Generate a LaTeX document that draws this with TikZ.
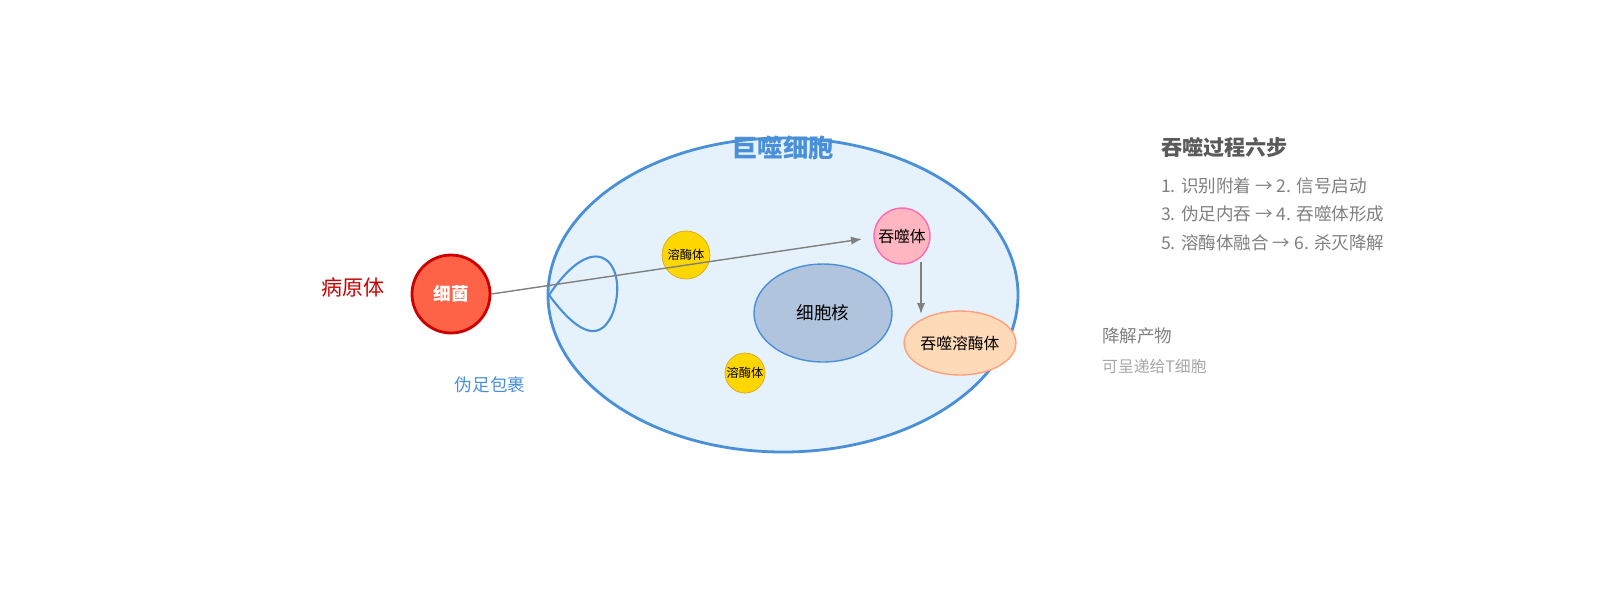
\documentclass[tikz,border=0pt]{standalone}
\usepackage{fontspec}
\setmainfont{Noto Sans CJK SC}
\usetikzlibrary{arrows.meta,shapes.geometric}
\definecolor{cellblue}{HTML}{4A90D9}
\definecolor{cellfill}{HTML}{E6F2FB}
\definecolor{bactfill}{HTML}{FF6347}
\definecolor{bactdraw}{HTML}{CC0000}
\definecolor{lysofill}{HTML}{FFD700}
\definecolor{lysodraw}{HTML}{DAA520}
\definecolor{nucfill}{HTML}{B0C4DE}
\definecolor{phagfill}{HTML}{FFB6C1}
\definecolor{phagdraw}{HTML}{FF69B4}
\definecolor{plfill}{HTML}{FFDAB9}
\definecolor{pldraw}{HTML}{FFA07A}
\definecolor{txtgrey}{HTML}{808080}
\tikzset{
  lyso/.style={circle, fill=lysofill, draw=lysodraw, font=\scriptsize, inner sep=0pt},
  flow/.style={draw=txtgrey, thick, -{Latex[length=2.2mm]}},
  steps/.style={text=txtgrey, anchor=west, font=\normalsize}
}
\begin{document}
\begin{tikzpicture}[x=0.02cm, y=-0.02cm]
    \useasboundingbox (0,0) rectangle (1600,600);

    % Macrophage
    \draw[cellblue, line width=1.6pt, fill=cellfill] (783,295) ellipse (235 and 157);
    \node[text=cellblue, font=\Large\bfseries] (title) at (783,148) {巨噬细胞};

    % Pseudopod
    \draw[cellblue, line width=1.2pt] (549,295) .. controls (600,220) and (630,270) .. (612,315)
        .. controls (598,345) and (575,330) .. (549,295);
    \node[text=cellblue] (pseudo) at (490,385) {伪足包裹};

    % Bacterium
    \node[circle, minimum size=1.56cm, fill=bactfill, draw=bactdraw,
          line width=1.6pt, text=white, font=\bfseries] (bact) at (451,294) {细菌};
    \node[text=bactdraw, font=\large] (pathogen) at (353,287) {病原体};

    % Lysosomes
    \node[lyso, minimum size=0.96cm] (lysoA) at (686,255) {溶酶体};
    \node[lyso, minimum size=0.8cm] (lysoB) at (745,373) {溶酶体};

    % Nucleus
    \node[ellipse, minimum width=2.76cm, minimum height=1.96cm, fill=nucfill, draw=cellblue, thick]
        (nuc) at (823,313) {细胞核};

    % Phagosome
    \node[circle, minimum size=1.12cm, inner sep=0pt, fill=phagfill, draw=phagdraw, thick, font=\small]
        (phago) at (902,236) {吞噬体};
    \node[ellipse, minimum width=1.72cm, minimum height=1.28cm, inner sep=0pt, fill=plfill, draw=pldraw, thick, font=\small]
        (plyso) at (960,343) {吞噬溶酶体};

    % Arrows
    \coordinate (tip) at (862,239);
    \coordinate (down) at (921,314);
    \draw[flow] (bact.east) -- (tip);
    \draw[flow] (921,262) -- (down);

    % Legend
    \node[text=txtgrey!70!black, font=\large\bfseries, anchor=west] (head) at (1155,148) {吞噬过程六步};
    \node[steps] (s1) at (1155,186) {1. 识别附着 → 2. 信号启动};
    \node[steps] (s2) at (1155,214) {3. 伪足内吞 → 4. 吞噬体形成};
    \node[steps] (s3) at (1155,243) {5. 溶酶体融合 → 6. 杀灭降解};
    \node[steps] (deg) at (1096,336) {降解产物};
    \node[text=txtgrey!70, anchor=west, font=\small] (tcell) at (1096,366) {可呈递给T细胞};
\end{tikzpicture}
\end{document}
